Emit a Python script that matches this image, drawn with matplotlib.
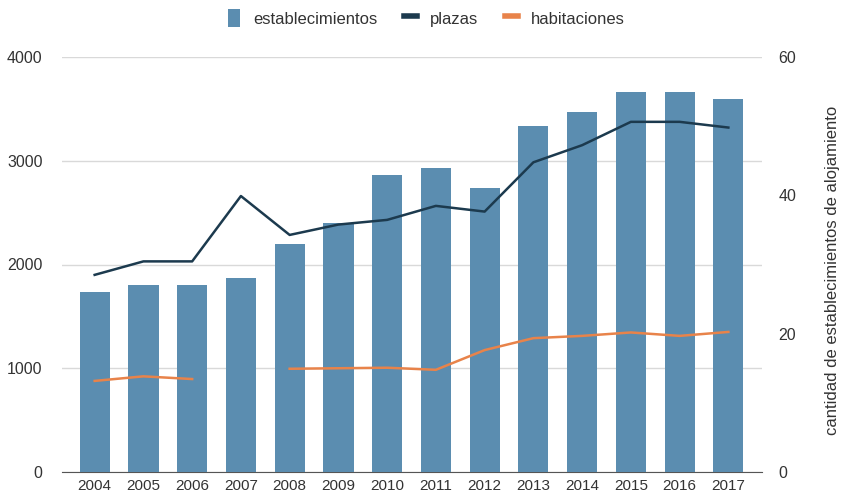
import numpy as np
import matplotlib.pyplot as plt
from matplotlib.patches import Patch
from matplotlib.lines import Line2D

plt.rcParams['font.family'] = ['Liberation Sans', 'DejaVu Sans']

years = ['2004', '2005', '2006', '2007', '2008', '2009', '2010',
         '2011', '2012', '2013', '2014', '2015', '2016', '2017']
establecimientos = [26, 27, 27, 28, 33, 36, 43, 44, 41, 50, 52, 55, 55, 54]
plazas = [1900, 2030, 2030, 2660, 2285, 2385, 2430, 2565, 2510, 2985, 3150, 3375, 3375, 3320]
habitaciones = [878, 922, 896, np.nan, 995, 1000, 1005, 985, 1175, 1290, 1312, 1345, 1312, 1350]

bar_color = '#5b8db0'
plazas_color = '#1c3a4e'
hab_color = '#e8834a'
text_color = '#333333'

x = np.arange(len(years))

fig = plt.figure(figsize=(8.44, 5.04), dpi=100)
ax = fig.add_axes([62 / 844, 32 / 504, 700 / 844, 415 / 504])

# left axis: grid + tick labels for plazas / habitaciones
ax.set_ylim(0, 4000)
ax.set_yticks([0, 1000, 2000, 3000, 4000])
ax.set_xlim(-0.67, 13.69)
ax.grid(axis='y', color='#d9d9d9', linewidth=1)
ax.set_axisbelow(True)
ax.set_xticks(x)
ax.set_xticklabels(years)
ax.tick_params(axis='x', length=0, labelsize=11, colors=text_color, pad=5)
ax.tick_params(axis='y', length=0, labelsize=11.5, colors=text_color, pad=14)
for s in ['top', 'right', 'left']:
    ax.spines[s].set_visible(False)
ax.spines['bottom'].set_color('#555555')

# right axis: bars
ax2 = ax.twinx()
ax2.bar(x, establecimientos, width=0.62, color=bar_color, zorder=2)
ax2.set_ylim(0, 60)
ax2.set_yticks([0, 20, 40, 60])
ax2.tick_params(length=0, labelsize=11.5, colors=text_color, pad=12)
for s in ax2.spines.values():
    s.set_visible(False)
fig.text(833 / 844, 0.464, 'cantidad de establecimientos de alojamiento',
         rotation=90, ha='center', va='center', fontsize=12, color=text_color)

# lines share the left scale
ax3 = ax.twinx()
ax3.set_ylim(ax.get_ylim())
ax3.plot(x, plazas, color=plazas_color, linewidth=1.8)
ax3.plot(x, habitaciones, color=hab_color, linewidth=1.8)
ax3.set_yticks([])
for s in ax3.spines.values():
    s.set_visible(False)

handles = [
    Patch(facecolor=bar_color, label='establecimientos'),
    Line2D([0], [0], color=plazas_color, linewidth=4, label='plazas'),
    Line2D([0], [0], color=hab_color, linewidth=4, label='habitaciones'),
]
fig.legend(handles=handles, loc='upper center', bbox_to_anchor=(0.505, 1.012),
           ncol=3, frameon=False, fontsize=12, handlelength=0.75,
           handleheight=1.3, handletextpad=0.8, columnspacing=1.6,
           labelcolor=text_color)

fig.savefig('out.png', dpi=100, facecolor='white')
